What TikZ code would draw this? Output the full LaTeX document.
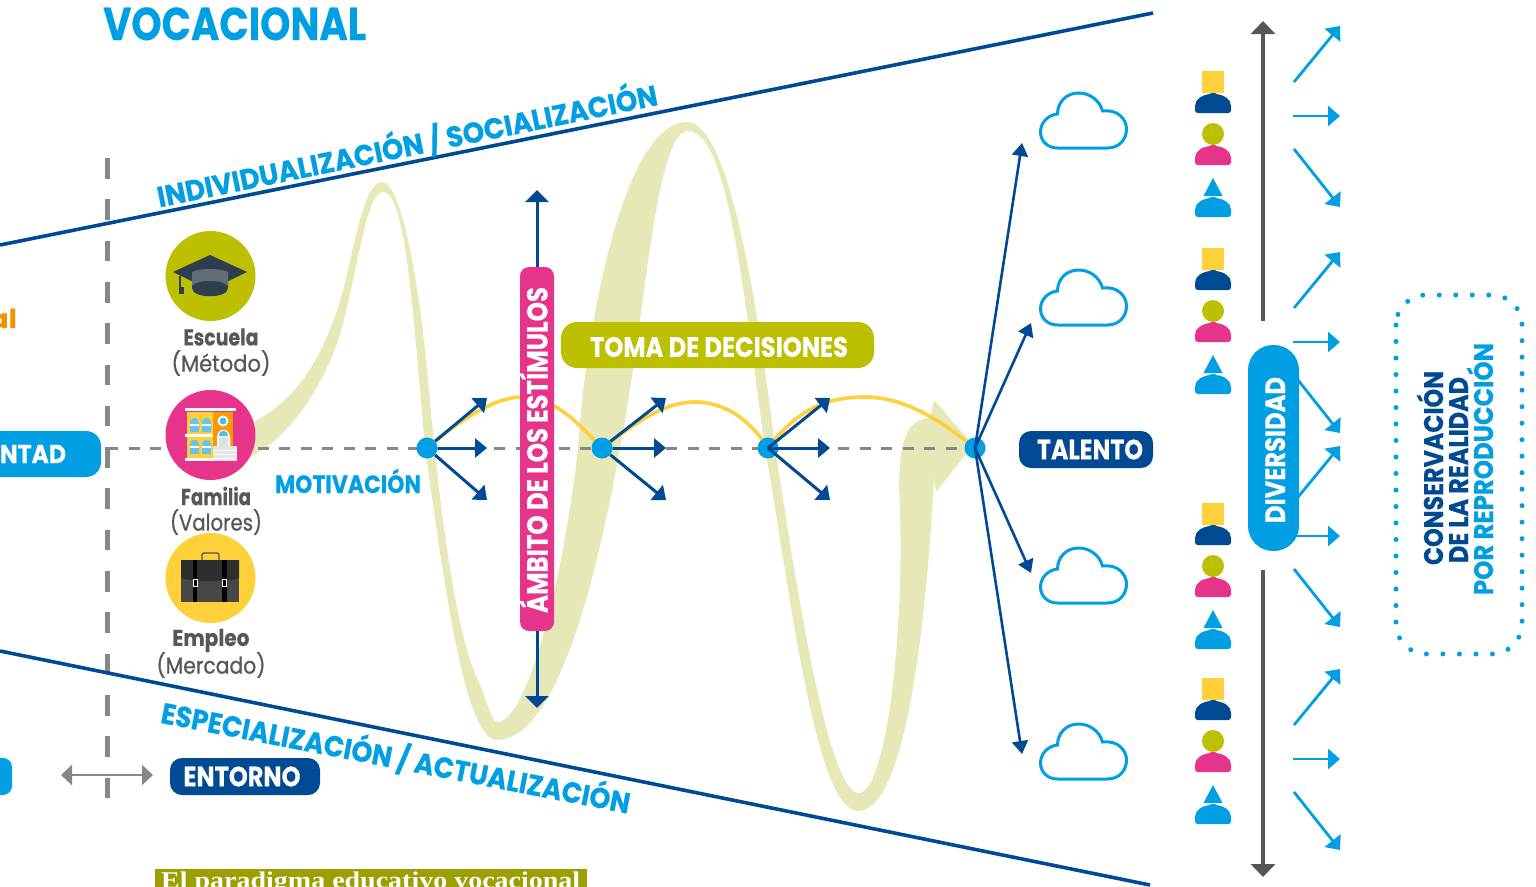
\documentclass[tikz,border=0pt]{standalone}
\usepackage{fontspec}
\usepackage{graphicx}
\setmainfont{Poppins}
\newfontfamily\capfont{Liberation Serif}
\newfontfamily\hvyfont[FakeBold=0.35]{Poppins Bold}
\newfontfamily\medfont[FakeBold=0.9]{Poppins}
\usetikzlibrary{arrows.meta}
\definecolor{rib}{HTML}{E6E8B8}
\definecolor{oliv}{HTML}{BDC000}
\definecolor{pinkc}{HTML}{E6348A}
\definecolor{cyanc}{HTML}{009FE3}
\definecolor{navy}{HTML}{004A94}
\definecolor{yell}{HTML}{FFD03A}
\definecolor{greyc}{HTML}{878787}
\definecolor{dark}{HTML}{575756}
\definecolor{orang}{HTML}{F39200}
\definecolor{capc}{HTML}{9BA000}
\definecolor{slate}{HTML}{2D3E4D}
\newcommand{\fw}[3]{\resizebox{#1pt}{\height}{\fontsize{#2}{#2}\selectfont\hvyfont #3}}
\newcommand{\fm}[3]{\resizebox{#1pt}{\height}{\fontsize{#2}{#2}\selectfont\medfont #3}}
\newcommand{\cloudat}[1]{\begin{scope}[shift={(1039.5,#1)}]
\draw[cyanc,line width=3pt,fill=white] (18,56) -- (68,56) .. controls (80,56) and (87,47) .. (87,37) .. controls (87,27) and (78,17) .. (63,19) .. controls (60,8) and (50,1) .. (39,1) .. controls (27,1) and (18,10) .. (18,22) .. controls (8,23) and (1,31) .. (1,40) .. controls (1,49) and (8,56) .. (18,56) -- cycle;
\end{scope}}
\newcommand{\bodyat}[2]{\fill[#2] (1195,#1+17) -- (1195,#1+13) .. controls (1195,#1+6) and (1202,#1+2) .. (1210,#1+1) -- (1211,#1) -- (1215,#1) -- (1216,#1+1) .. controls (1224,#1+2) and (1231,#1+6) .. (1231,#1+13) -- (1231,#1+17) .. controls (1231,#1+19) and (1230,#1+20) .. (1228,#1+20) -- (1198,#1+20) .. controls (1196,#1+20) and (1195,#1+19) .. (1195,#1+17) -- cycle;}
\newcommand{\peopleat}[1]{
\fill[yell] (1202,#1) rectangle (1224,#1+22);
\bodyat{#1+22}{navy}
\fill[oliv] (1213,#1+63) circle (11);
\bodyat{#1+74}{pinkc}
\fill[cyanc] (1213,#1+107) -- (1222.5,#1+125) -- (1203.5,#1+125) -- cycle;
\bodyat{#1+126}{cyanc}
}
\newcommand{\fanat}[1]{
\coordinate (u#1) at (1340,#1-90);
\coordinate (m#1) at (1340,#1);
\coordinate (l#1) at (1340,#1+91);
\coordinate (ua#1) at (1294,#1-34);
\coordinate (ma#1) at (1293,#1);
\coordinate (la#1) at (1294,#1+33);
\draw[cyarrow] (ua#1) -- (u#1);
\draw[cyarrow] (ma#1) -- (m#1);
\draw[cyarrow] (la#1) -- (l#1);
}
\tikzset{
 pill/.style={inner sep=0pt,text=white,align=center,anchor=center},
 lab/.style={inner sep=0pt,anchor=center},
 blab/.style={inner sep=0pt,anchor=base},
 navarrow/.style={navy,line width=3pt,-{Triangle[length=12pt,width=19pt]}},
 vertarrow/.style={navy,line width=3pt,-{Triangle[length=12pt,width=23pt]}},
 fanarrow/.style={navy,line width=2.6pt,-{Triangle[length=13pt,width=16pt]}},
 cyarrow/.style={cyanc,line width=2.8pt,-{Triangle[length=12pt,width=20pt]}},
 grarrow/.style={dark,line width=3.6pt},
 dot/.style={circle,fill=cyanc,minimum size=21pt,inner sep=0pt},
 yarc/.style={yell,line width=3.6pt},
 wedge/.style={navy,line width=3.6pt}
}
\begin{document}
\begin{tikzpicture}[x=1pt,y=-1pt]
\useasboundingbox (0,0) rectangle (1536,886);
\clip (0,0) rectangle (1536,886);
% ribbon
\fill[rib] (255,421) .. controls (305,395) and (335,340) .. (353,247)
 .. controls (362,210) and (370,182) .. (382,182)
 .. controls (402,182) and (420,290) .. (428,380)
 .. controls (437,480) and (452,625) .. (478,680)
 .. controls (486,697) and (491,722) .. (497,722)
 .. controls (530,722) and (566,560) .. (578,448)
 .. controls (585,335) and (622,122) .. (687,122)
 .. controls (733,122) and (762,340) .. (775,448)
 .. controls (797,590) and (828,793) .. (859,793)
 .. controls (885,793) and (904,640) .. (900,513)
 .. controls (898,470) and (897,418) .. (930,418)
 -- (934,400) -- (973,445) -- (936,492) -- (934,478)
 .. controls (928,590) and (910,811) .. (858,811)
 .. controls (815,811) and (790,590) .. (765,448)
 .. controls (745,310) and (730,131) .. (688,131)
 .. controls (655,131) and (645,320) .. (620,448)
 .. controls (600,560) and (560,740) .. (497,740)
 .. controls (465,740) and (445,590) .. (425,448)
 .. controls (412,300) and (405,192) .. (383,192)
 .. controls (366,192) and (358,270) .. (340,335)
 .. controls (320,395) and (285,440) .. (250,457) -- cycle;
% guides
\draw[greyc,line width=3pt,dash pattern=on 11pt off 10.5pt] (107,448) -- (965,448);
\draw[greyc,line width=5pt,dash pattern=on 20.6pt off 20.7pt] (107,158) -- (107,800);
\coordinate (wa) at (0,245); \coordinate (wb) at (1153,13);
\coordinate (wc) at (0,651); \coordinate (wd) at (1150,885);
\draw[wedge] (wa) -- (wb);
\draw[wedge] (wc) -- (wd);
\node[lab,text=cyanc,rotate=11.6] (tind) at (407,145) {\fw{510}{29}{INDIVIDUALIZACIÓN / SOCIALIZACIÓN}};
\node[lab,text=cyanc,rotate=-11] (tesp) at (396,757) {\fw{477}{29}{ESPECIALIZACIÓN / ACTUALIZACIÓN}};
% title and clipped left
\node[lab,text=cyanc,anchor=base west] (title) at (103,40) {\fw{263}{46}{VOCACIONAL}};
\node[lab,text=orang,anchor=base east] (al) at (17,328) {\fw{27}{26}{al}};
\fill[cyanc,rounded corners=15pt] (-40,431) rectangle (101,477);
\node[lab,text=white] (ntad) at (33,454) {\fw{66}{26}{NTAD}};
\fill[cyanc,rounded corners=9pt] (-40,758) rectangle (12,795);
% circles
\node[circle,fill=oliv,minimum size=90pt,inner sep=0pt] (esc) at (210.5,276) {};
\node[circle,fill=pinkc,minimum size=90pt,inner sep=0pt] (fam) at (210.5,435) {};
\node[circle,fill=yell,minimum size=90pt,inner sep=0pt] (emp) at (210.5,578) {};
% cap icon
\fill[slate] (173,272) -- (210,255) -- (247,272) -- (210,290) -- cycle;
\fill[slate] (192,280) -- (192,288) .. controls (192,299) and (228,299) .. (228,288) -- (228,280) -- cycle;
\fill[slate!75!white] (192,272) .. controls (200,268) and (220,268) .. (228,272) -- (228,286) .. controls (222,279) and (198,279) .. (192,286) -- cycle;
\draw[slate,line width=1.5pt] (180,276) -- (180,292);
\fill[slate] (178.5,287) rectangle (184,294);
% building icon
\fill[yell] (187,412) rectangle (213,460);
\fill[orang!85!yell] (213,412) rectangle (233,450);
\fill[white] (185,408) rectangle (236,411);
\fill[white] (185,434) rectangle (213,437);
\fill[white] (185,458) rectangle (213,461);
\foreach \wx in {190,202} \foreach \wy in {415,437}{
 \fill[cyanc!60!white] (\wx,\wy+17) -- (\wx,\wy+8) .. controls (\wx,\wy+1) and (\wx+9,\wy+1) .. (\wx+9,\wy+8) -- (\wx+9,\wy+17) -- cycle;
 \fill[white] (\wx,\wy+9) rectangle (\wx+9,\wy+11);
}
\fill[white] (223,421) circle (5.5); \fill[cyanc!70!white] (223,421) circle (3.5);
\fill[white] (217,446) -- (217,438) .. controls (217,427) and (230,427) .. (230,438) -- (230,446) -- cycle;
\fill[cyanc!70!white] (219,436) .. controls (219,429) and (228,429) .. (228,436) -- cycle;
\fill[black!12] (219,437) rectangle (228,446);
\fill[black!10] (213,446) rectangle (237,461);
\foreach \sy in {450,454,458}{\draw[white,line width=.8pt] (213,\sy) -- (237,\sy);}
% briefcase
\draw[dark,line width=1.4pt,rounded corners=2pt] (202,560) -- (202,553) -- (219,553) -- (219,560);
\fill[black!72] (181,560) rectangle (239,602);
\fill[black!82] (181,560) -- (239,560) -- (239,578) .. controls (230,582) and (190,582) .. (181,578) -- cycle;
\fill[black] (192.5,560) rectangle (197,602);
\fill[black] (222,560) rectangle (226.5,602);
\draw[white,line width=.6pt] (193,579) rectangle (197,586);
\draw[white,line width=.6pt] (222.5,579) rectangle (226.5,586);
% labels
\node[lab,text=dark] (l1) at (221,337) {\fw{75}{23}{Escuela}};
\node[lab,text=dark] (l2) at (221,363) {\fm{99}{23}{(Método)}};
\node[lab,text=dark] (l3) at (216,496) {\fw{70}{23}{Familia}};
\node[lab,text=dark] (l4) at (216,522) {\fm{92}{23}{(Valores)}};
\node[lab,text=dark] (l5) at (211,640.5) {\fw{77}{23}{Empleo}};
\node[lab,text=dark] (l6) at (211,665) {\fm{109}{23}{(Mercado)}};
\node[blab,text=cyanc] (mot) at (348,493) {\fw{146}{25}{MOTIVACIÓN}};
% yellow arcs (behind dots)
\coordinate (a1) at (427,448); \coordinate (a2) at (602,448); \coordinate (a3) at (768,448); \coordinate (a4) at (975,448);
\draw[yarc] (a1) .. controls (460,420) and (495,397) .. (522,397) .. controls (555,397) and (580,425) .. (a2);
\draw[yarc] (a2) .. controls (640,420) and (665,402) .. (695,402) .. controls (725,402) and (750,420) .. (a3);
\draw[yarc] (a3) .. controls (790,420) and (815,397) .. (864,397) .. controls (905,397) and (940,420) .. (a4);
% dots
\node[dot] (d1) at (a1) {};
\node[dot] (d2) at (a2) {};
\node[dot] (d3) at (a3) {};
\node[dot] (d4) at (a4) {};
% fans
\foreach \n/\px in {d1/487,d2/666,d3/830}{
 \coordinate (\n u) at (\px,398);
 \coordinate (\n m) at (\px,448);
 \coordinate (\n l) at (\px,500);
}
\foreach \n in {d1,d2}{
 \draw[navarrow] (\n) -- (\n u);
 \draw[navarrow] (\n) -- (\n m);
 \draw[navarrow] (\n) -- (\n l);
}
\draw[navarrow] (d3.center) -- (d3u);
\draw[navarrow] (d3.center) -- (d3m);
\draw[navarrow] (d3.center) -- (d3l);
% talent fan
\coordinate (t1) at (1022,143);
\coordinate (t2) at (1031,323);
\coordinate (t3) at (1031,573);
\coordinate (t4) at (1022,754);
\foreach \k in {t1,t2,t3,t4}{\draw[fanarrow] (d4.center) -- (\k);}
\cloudat{92}\cloudat{269}\cloudat{547}\cloudat{723}
% pink pill and toma
\coordinate (pu) at (537,190); \coordinate (pd) at (537,708);
\node[pill,fill=pinkc,rounded corners=9pt,minimum width=34pt,minimum height=364pt] (amb) at (537,449) {};
\node[blab,text=white,rotate=90] (ambt) at (547.5,450) {\fw{326}{29}{ÁMBITO DE LOS ESTÍMULOS}};
\draw[vertarrow] (amb.north) -- (pu);
\draw[vertarrow] (amb.south) -- (pd);
\node[pill,fill=oliv,rounded corners=16pt,minimum width=313pt,minimum height=46pt] (toma) at (717.5,345) {};
\node[lab,text=white] (tomat) at (719,347) {\fw{258}{28}{TOMA DE DECISIONES}};
\node[pill,fill=navy,rounded corners=12pt,minimum width=134pt,minimum height=37pt] (tal) at (1086,449.5) {\hspace*{8pt}\fw{106}{28}{TALENTO}};
\node[pill,fill=navy,rounded corners=12pt,minimum width=150pt,minimum height=37pt] (ent) at (245,776.5) {\hspace*{-6pt}\fw{117}{28}{ENTORNO}};
\coordinate (ga) at (61,775); \coordinate (gb) at (153,775);
\draw[greyc,line width=2.6pt,{Triangle[length=11pt,width=20pt]}-{Triangle[length=11pt,width=20pt]}] (ga) -- (gb);
% people
\peopleat{71}\peopleat{248}\peopleat{503}\peopleat{678}
% cyan fans
\fanat{116}\fanat{342}\fanat{536}\fanat{759}
% grey axis
\coordinate (ax) at (1263,21); \coordinate (ay) at (1263,321); \coordinate (az) at (1263,570); \coordinate (aw) at (1263,877);
\draw[grarrow,{Triangle[length=13pt,width=24pt]}-] (ax) -- (ay);
\draw[grarrow,-{Triangle[length=13pt,width=24pt]}] (az) -- (aw);
\node[pill,fill=cyanc,rounded corners=25pt,minimum width=51pt,minimum height=206pt] (div) at (1273.5,448) {};
\node[blab,text=white,rotate=90] (divt) at (1285,450) {\fw{146}{28}{DIVERSIDAD}};
% dotted frame
\draw[cyanc,line width=5pt,line cap=round,dash pattern=on 0pt off 16.5pt,rounded corners=30pt] (1396,295) rectangle (1522,654);
\node[blab,text=navy,rotate=90] (c1) at (1443,468) {\fw{194}{27}{CONSERVACIÓN}};
\node[blab,text=navy,rotate=90] (c2) at (1468,470) {\fw{186}{27}{DE LA REALIDAD}};
\node[blab,text=cyanc,rotate=90] (c3) at (1493,469) {\fw{252}{27}{POR REPRODUCCIÓN}};
% caption
\fill[capc] (155,869) rectangle (587,890);
\node[inner sep=0pt,anchor=base west,text=white] (capt) at (161,888) {\resizebox{419pt}{\height}{\capfont\fontsize{24}{24}\selectfont\bfseries El paradigma educativo vocacional}};
\end{tikzpicture}
\end{document}
